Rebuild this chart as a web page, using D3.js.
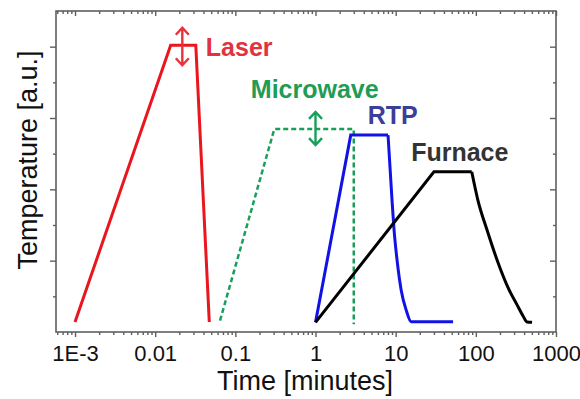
<!DOCTYPE html>
<html>
<head>
<meta charset="utf-8">
<script src="https://cdn.jsdelivr.net/npm/d3@7"></script>
<style>
  html, body { margin: 0; padding: 0; background: #fff; }
  svg { display: block; font-family: "Liberation Sans", Arial, sans-serif; }
</style>
</head>
<body>
<svg id="chart" width="580" height="399"></svg>
<script>
// Heating profiles: time in minutes (log axis), temperature in arbitrary units.
const laser = [[0.001, 0.28], [0.0156, 8.04], [0.0321, 8.04], [0.0473, 0.28]];
const microwave = [[0.0644, 0.32], [0.306, 5.69], [3.0, 5.69], [3.0, 0.22]];
const rtpRamp = [[1, 0.27], [2.75, 5.52], [8.03, 5.52]];
const rtpCool = [[8.03, 5.52], [9.0, 3.7], [9.55, 2.86], [10.4, 2.02], [11.7, 1.18], [13.5, 0.62], [15.6, 0.29], [52, 0.29]];
const furnaceRamp = [[1, 0.27], [30, 4.49], [89, 4.49]];
const furnaceCool = [[89, 4.49], [106, 3.7], [138, 2.86], [184, 2.02], [260, 1.18], [327, 0.76], [388, 0.45], [436, 0.28], [503, 0.27]];

// Temperature spread markers (time, low, high)
const laserSpread = [0.0218, 7.48, 8.53];
const microwaveSpread = [1.0, 5.24, 6.17];

// Axis ticks
const xMajor = [1e-3, 1e-2, 1e-1, 1, 10, 100, 1000];
const xMajorLabels = ["1E-3", "0.01", "0.1", "1", "10", "100", "1000"];
const yMajor = [2, 4, 6, 8];
const yMinor = [1, 3, 5, 7];

const svg = d3.select("#chart");
const frame = { left: 56, right: 556, top: 11, bottom: 332 };

const x = d3.scaleLog().domain([5.79e-4, 1000]).range([frame.left, frame.right]);
const y = d3.scaleLinear().domain([0, 9]).range([frame.bottom, frame.top]);

// Minor x ticks: 2..9 within each decade, plus the partial decade before 1E-3
const xMinor = [];
[1e-4, 1e-3, 1e-2, 1e-1, 1, 10, 100].forEach(d => {
  for (let k = 2; k <= 9; k++) {
    const v = d * k;
    if (v >= x.domain()[0] && v <= 1000) xMinor.push(v);
  }
});

const axisColor = "#5f5f5f";

function styleAxis(g) {
  g.select(".domain").remove();
  g.selectAll(".tick line").attr("stroke", axisColor).attr("stroke-width", 1.4);
  g.selectAll(".tick text").attr("fill", "#111").attr("font-size", 22)
    .attr("font-family", "'Liberation Sans', Arial, sans-serif");
}

// Bottom axis (outward ticks, labelled)
svg.append("g").attr("transform", `translate(0,${frame.bottom})`)
  .call(d3.axisBottom(x).tickValues(xMajor).tickSize(5).tickPadding(8)
    .tickFormat((d, i) => xMajorLabels[i]))
  .call(styleAxis);
svg.append("g").attr("transform", `translate(0,${frame.bottom})`)
  .call(d3.axisBottom(x).tickValues(xMinor).tickSize(3).tickFormat(""))
  .call(styleAxis);

// Top axis (inward ticks)
svg.append("g").attr("transform", `translate(0,${frame.top})`)
  .call(d3.axisTop(x).tickValues(xMajor).tickSize(-5).tickFormat(""))
  .call(styleAxis);
svg.append("g").attr("transform", `translate(0,${frame.top})`)
  .call(d3.axisTop(x).tickValues(xMinor).tickSize(-3).tickFormat(""))
  .call(styleAxis);

// Left axis (outward ticks, no labels)
svg.append("g").attr("transform", `translate(${frame.left},0)`)
  .call(d3.axisLeft(y).tickValues(yMajor).tickSize(6).tickFormat(""))
  .call(styleAxis);
svg.append("g").attr("transform", `translate(${frame.left},0)`)
  .call(d3.axisLeft(y).tickValues(yMinor).tickSize(3).tickFormat(""))
  .call(styleAxis);

// Right axis (inward ticks)
svg.append("g").attr("transform", `translate(${frame.right},0)`)
  .call(d3.axisRight(y).tickValues(yMajor).tickSize(-6).tickFormat(""))
  .call(styleAxis);
svg.append("g").attr("transform", `translate(${frame.right},0)`)
  .call(d3.axisRight(y).tickValues(yMinor).tickSize(-3).tickFormat(""))
  .call(styleAxis);

// Frame
svg.append("rect")
  .attr("x", frame.left).attr("y", frame.top)
  .attr("width", frame.right - frame.left).attr("height", frame.bottom - frame.top)
  .attr("fill", "none").attr("stroke", axisColor).attr("stroke-width", 1.6);

// Axis titles
svg.append("text")
  .attr("x", 305).attr("y", 390)
  .attr("text-anchor", "middle").attr("font-size", 27).attr("fill", "#111")
  .text("Time [minutes]");
svg.append("text")
  .attr("transform", "translate(37,160) rotate(-90)")
  .attr("text-anchor", "middle").attr("font-size", 27).attr("fill", "#111")
  .text("Temperature [a.u.]");

// Profile lines
const straight = d3.line().x(d => x(d[0])).y(d => y(d[1]));
const smooth = d3.line().x(d => x(d[0])).y(d => y(d[1])).curve(d3.curveMonotoneX);

const plot = svg.append("g")
  .attr("fill", "none").attr("stroke-linejoin", "miter").attr("stroke-linecap", "butt");

plot.append("path").attr("d", straight(laser))
  .attr("stroke", "#ea161e").attr("stroke-width", 3);

plot.append("path").attr("d", straight(microwave))
  .attr("stroke", "#18a05a").attr("stroke-width", 2.5)
  .attr("stroke-dasharray", "5,3");

plot.append("path").attr("d", straight(rtpRamp))
  .attr("stroke", "#1212e6").attr("stroke-width", 3);
plot.append("path").attr("d", smooth(rtpCool))
  .attr("stroke", "#1212e6").attr("stroke-width", 3);

plot.append("path").attr("d", straight(furnaceRamp))
  .attr("stroke", "#000").attr("stroke-width", 3);
plot.append("path").attr("d", smooth(furnaceCool))
  .attr("stroke", "#000").attr("stroke-width", 3);

// Double-headed spread arrows
function spreadArrow(s, color) {
  const px = x(s[0]), y0 = y(s[2]), y1 = y(s[1]);
  const hw = 6.5, hh = 7;
  const p = d3.path();
  p.moveTo(px, y0); p.lineTo(px, y1);
  p.moveTo(px - hw, y0 + hh); p.lineTo(px, y0); p.lineTo(px + hw, y0 + hh);
  p.moveTo(px - hw, y1 - hh); p.lineTo(px, y1); p.lineTo(px + hw, y1 - hh);
  svg.append("path").attr("d", p.toString())
    .attr("fill", "none").attr("stroke", color).attr("stroke-width", 2.4)
    .attr("stroke-linejoin", "miter");
}
spreadArrow(laserSpread, "#e8323c");
spreadArrow(microwaveSpread, "#18a05a");

// Series labels
const labels = [
  { text: "Laser", t: 0.0428, v: 7.73, color: "#e2323f" },
  { text: "Microwave", t: 0.156, v: 6.55, color: "#1f9c55" },
  { text: "RTP", t: 4.49, v: 5.83, color: "#3b3f99" },
  { text: "Furnace", t: 15.6, v: 4.79, color: "#333333" }
];
svg.selectAll("text.series").data(labels).join("text")
  .attr("class", "series")
  .attr("x", d => x(d.t)).attr("y", d => y(d.v))
  .attr("font-size", 25).attr("font-weight", "bold")
  .attr("fill", d => d.color)
  .text(d => d.text);
</script>
</body>
</html>
